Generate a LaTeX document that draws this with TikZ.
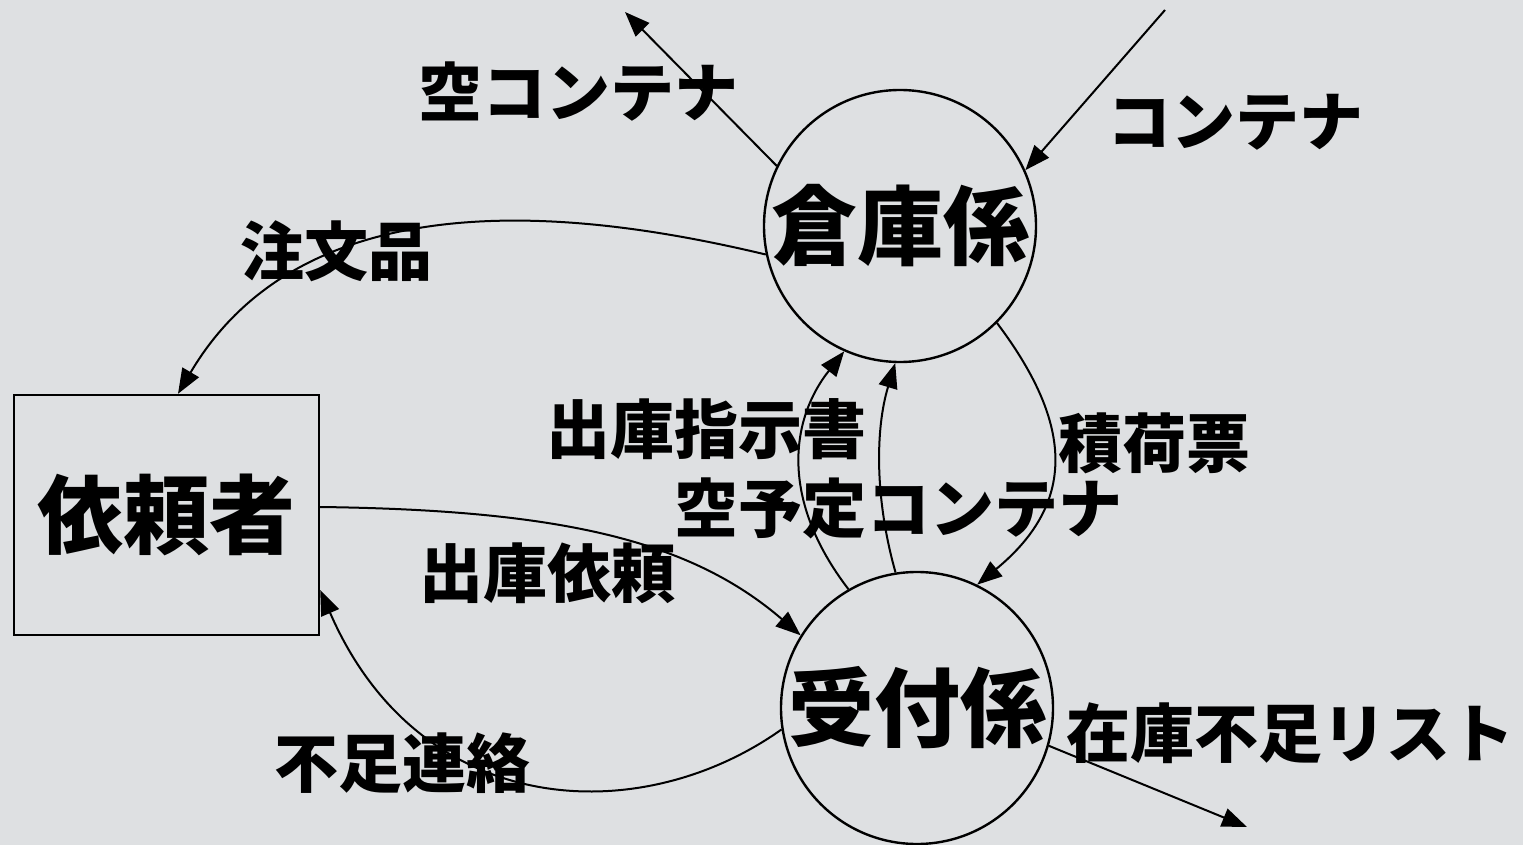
\documentclass[tikz,border=0pt]{standalone}
\usepackage{fontspec}
\newfontfamily\jp{Noto Sans CJK JP}
\usetikzlibrary{arrows.meta}
\definecolor{bgc}{RGB}{222,224,226}
\begin{document}
\begin{tikzpicture}[x=1pt,y=-1pt,
  lbl/.style={font=\jp\bfseries\fontsize{64}{64}\selectfont, inner sep=0pt},
  big/.style={font=\jp\bfseries\fontsize{86}{86}\selectfont, inner sep=0pt},
  flow/.style={line width=2pt, -{Triangle[length=25pt,width=19pt]}},
  proc/.style={circle, draw, line width=2.4pt, minimum size=272pt, inner sep=0pt},
  ent/.style={draw, line width=2.4pt, minimum width=305pt, minimum height=240pt, inner sep=0pt},
]
\fill[bgc] (0,0) rectangle (1523,845);
\useasboundingbox (0,0) rectangle (1523,845);

\node[proc, big] (soko) at (900,226) {倉庫係};
\node[proc, big] (uke) at (917,708) {受付係};
\node[ent, big] (irai) at (166.5,515) {依頼者};

\coordinate (c1) at (625,12);
\coordinate (c2) at (1165,10);
\coordinate (c3) at (1247,827);

\node[lbl] (l1) at (578,92) {空コンテナ};
\node[lbl] (l2) at (1235,122) {コンテナ};
\node[lbl] (l3) at (336,251) {注文品};
\node[lbl] (l4) at (706,429) {出庫指示書};
\node[lbl] (l5) at (898,508) {空予定コンテナ};
\node[lbl] (l6) at (1154,443) {積荷票};
\node[lbl] (l7) at (547,573) {出庫依頼};
\node[lbl] (l8) at (402,763) {不足連絡};
\node[lbl] (l9) at (1290,733) {在庫不足リスト};

\draw[flow] (soko.154) -- (c1);
\draw[flow] (c2) -- (soko.24);
\draw[flow] (soko.192) .. controls (600,215) and (310,170) .. ([xshift=11.5pt]irai.north);
\draw[flow] ([yshift=8pt]irai.east) .. controls (560,510) and (690,540) .. (uke.148);
\draw[flow] (uke.189) .. controls (640,830) and (420,820) .. ([yshift=-75pt]irai.east);
\draw[flow] (uke.120) .. controls (780,500) and (790,420) .. (soko.246);
\draw[flow] (uke.99) .. controls (875,500) and (875,430) .. (soko.268);
\draw[flow] (soko.315) .. controls (1070,420) and (1080,500) .. (uke.64);
\draw[flow] (uke.344) -- (c3);
\end{tikzpicture}
\end{document}
